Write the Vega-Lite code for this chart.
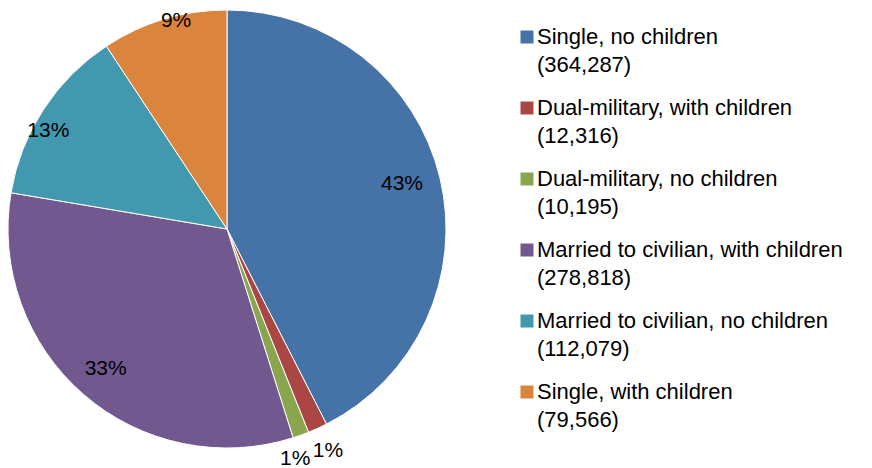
{
  "$schema": "https://vega.github.io/schema/vega-lite/v6.json",
  "width": 454,
  "height": 458,
  "padding": {"left": 0, "top": 0, "right": 418, "bottom": 10},
  "autosize": {"type": "none"},
  "background": "white",
  "config": {
    "view": {"stroke": null},
    "font": "Liberation Sans",
    "style": {"guide-label": {"lineHeight": 28, "dy": -10}}
  },
  "data": {
    "values": [
      {"idx": 1, "category": "Single, no children|(364,287)", "count": 364287, "pct": "43%"},
      {"idx": 2, "category": "Dual-military, with children|(12,316)", "count": 12316, "pct": "1%"},
      {"idx": 3, "category": "Dual-military, no children|(10,195)", "count": 10195, "pct": "1%"},
      {"idx": 4, "category": "Married to civilian, with children|(278,818)", "count": 278818, "pct": "33%"},
      {"idx": 5, "category": "Married to civilian, no children|(112,079)", "count": 112079, "pct": "13%"},
      {"idx": 6, "category": "Single, with children|(79,566)", "count": 79566, "pct": "9%"}
    ]
  },
  "encoding": {
    "theta": {"field": "count", "type": "quantitative", "stack": true},
    "order": {"field": "idx", "type": "quantitative"},
    "color": {
      "field": "category",
      "type": "nominal",
      "sort": null,
      "scale": {
        "domain": [
          "Single, no children|(364,287)",
          "Dual-military, with children|(12,316)",
          "Dual-military, no children|(10,195)",
          "Married to civilian, with children|(278,818)",
          "Married to civilian, no children|(112,079)",
          "Single, with children|(79,566)"
        ],
        "range": ["#4572A7", "#AA4643", "#89A54E", "#71588F", "#4198AF", "#DB843D"]
      },
      "legend": {
        "title": null,
        "orient": "none",
        "legendX": 516,
        "legendY": 26,
        "symbolType": "square",
        "symbolSize": 169,
        "symbolStrokeWidth": 0,
        "labelFont": "Liberation Sans",
        "labelFontSize": 22,
        "labelColor": "#000000",
        "labelLimit": 400,
        "labelOffset": -1,
        "labelBaseline": "top",
        "rowPadding": 21,
        "labelExpr": "split(datum.label, '|')"
      }
    }
  },
  "layer": [
    {
      "mark": {"type": "arc", "outerRadius": 219, "stroke": "white", "strokeWidth": 1}
    },
    {
      "mark": {"type": "text", "fontSize": 21, "font": "Liberation Sans", "radius": 180, "dy": -3},
      "encoding": {
        "text": {"condition": {"test": "datum.idx != 1", "value": ""}, "field": "pct"},
        "color": {"value": "#000000"}
      }
    },
    {
      "mark": {"type": "text", "fontSize": 21, "font": "Liberation Sans", "radius": 185},
      "encoding": {
        "text": {"condition": {"test": "datum.idx != 4", "value": ""}, "field": "pct"},
        "color": {"value": "#000000"}
      }
    },
    {
      "mark": {"type": "text", "fontSize": 21, "font": "Liberation Sans", "radius": 206, "dy": 14, "dx": -6},
      "encoding": {
        "text": {"condition": {"test": "datum.idx != 5", "value": ""}, "field": "pct"},
        "color": {"value": "#000000"}
      }
    },
    {
      "mark": {"type": "text", "fontSize": 21, "font": "Liberation Sans", "radius": 212, "dx": 10, "dy": -5},
      "encoding": {
        "text": {"condition": {"test": "datum.idx != 6", "value": ""}, "field": "pct"},
        "color": {"value": "#000000"}
      }
    },
    {
      "mark": {"type": "text", "fontSize": 21, "font": "Liberation Sans", "radius": 244},
      "encoding": {
        "text": {"condition": {"test": "datum.idx != 2", "value": ""}, "field": "pct"},
        "color": {"value": "#000000"}
      }
    },
    {
      "mark": {"type": "text", "fontSize": 21, "font": "Liberation Sans", "radius": 244, "dx": -14},
      "encoding": {
        "text": {"condition": {"test": "datum.idx != 3", "value": ""}, "field": "pct"},
        "color": {"value": "#000000"}
      }
    }
  ]
}
